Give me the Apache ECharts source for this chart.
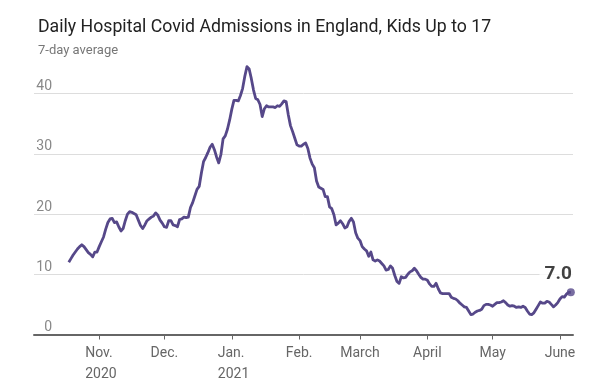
<!DOCTYPE html>
<html><head><meta charset="utf-8">
<script src="https://cdn.jsdelivr.net/npm/echarts@6/dist/echarts.min.js"></script>
<style>html,body{margin:0;padding:0;background:#fff}#c{width:608px;height:384px}</style>
</head><body><div id="c"></div>
<script>
const titleText = 'Daily Hospital Covid Admissions in England, Kids Up to 17';
const subtitleText = '7-day average';
const startDate = '2020-10-18';
const values = [
12.0, 12.6, 13.2, 13.7, 14.2, 14.6, 14.9, 14.6, 14.1, 13.6,
13.3, 12.9, 13.7, 13.7, 14.6, 15.4, 16.2, 17.5, 18.6, 19.2,
19.3, 18.6, 18.7, 17.9, 17.2, 17.6, 18.9, 20.0, 20.4, 20.3,
20.1, 19.9, 19.0, 18.1, 17.6, 18.2, 18.9, 19.2, 19.5, 19.7,
20.2, 19.8, 19.0, 18.5, 17.9, 17.8, 18.9, 18.9, 18.2, 18.1,
17.9, 19.1, 19.2, 19.5, 19.4, 19.5, 21.1, 21.9, 23.0, 24.1,
24.6, 26.8, 28.7, 29.4, 30.2, 31.1, 31.6, 30.7, 29.5, 28.5,
29.9, 32.5, 33.0, 34.1, 35.6, 37.4, 38.9, 38.9, 38.8, 39.7,
40.9, 42.9, 44.5, 44.1, 42.5, 40.6, 39.2, 39.0, 38.2, 36.2,
37.5, 38.0, 37.8, 37.8, 37.8, 37.7, 38.0, 37.9, 38.3, 38.8,
38.7, 36.5, 34.7, 33.7, 32.6, 31.5, 31.3, 31.3, 31.6, 31.8,
30.9, 29.3, 28.3, 27.7, 25.5, 24.5, 24.3, 24.1, 22.9, 22.9,
21.2, 20.9, 19.9, 18.2, 18.5, 18.9, 18.4, 17.7, 17.9, 18.8,
19.3, 18.7, 16.9, 16.0, 15.6, 14.6, 14.2, 13.9, 13.0, 13.7,
12.4, 12.2, 12.4, 12.2, 11.8, 11.4, 10.7, 10.8, 11.4, 11.0,
9.8, 8.8, 8.5, 9.6, 9.4, 9.5, 10.0, 10.4, 10.6, 11.0,
10.6, 10.0, 9.5, 9.2, 9.2, 9.0, 8.4, 8.0, 8.0, 8.5,
7.6, 6.9, 6.8, 6.8, 6.8, 6.8, 6.2, 6.0, 5.9, 5.6,
5.2, 4.9, 4.6, 4.5, 3.9, 3.3, 3.4, 3.7, 3.9, 4.0,
4.2, 4.8, 5.0, 5.0, 4.9, 4.7, 5.0, 5.3, 5.3, 5.4,
5.6, 5.3, 4.9, 4.7, 4.8, 4.7, 4.5, 4.6, 4.5, 4.7,
4.5, 3.9, 3.4, 3.3, 3.6, 4.2, 4.8, 5.4, 5.2, 5.2,
5.5, 5.4, 5.0, 4.6, 4.9, 5.3, 5.9, 6.3, 6.2, 6.7,
7.0, 7.0
];
const monthTicks = ['2020-11-01','2020-12-01','2021-01-01','2021-02-01','2021-03-01','2021-04-01','2021-05-01','2021-06-01'];
const monthLabels = ['Nov.','Dec.','Jan.','Feb.','March','April','May','June'];
const yearLabels = ['2020','','2021','','','','',''];
const axisStart = '2020-10-02';
const axisEnd = '2021-06-07';
const yMin = 0, yMax = 40, yStep = 10;

const FONT = 'Roboto, "Liberation Sans", sans-serif';
const DAY = 86400000;
function utc(s){ const p = s.split('-').map(Number); return Date.UTC(p[0], p[1]-1, p[2]); }
const t0 = utc(startDate);
const seriesData = values.map((v, i) => [t0 + i * DAY, v]);
const lastPoint = seriesData[seriesData.length - 1];
const tickTimes = monthTicks.map(utc);

const chart = echarts.init(document.getElementById('c'), null, {renderer: 'canvas'});
chart.setOption({
  animation: false,
  backgroundColor: '#fff',
  textStyle: {fontFamily: FONT},
  title: {
    text: titleText,
    subtext: subtitleText,
    left: 33, top: 14, itemGap: 7,
    textStyle: {fontFamily: FONT, fontSize: 17.7, fontWeight: 'normal', color: '#222'},
    subtextStyle: {fontFamily: FONT, fontSize: 13, color: '#777'}
  },
  grid: {left: 34, right: 35, top: 93.7, bottom: 49.5, containLabel: false, outerBoundsMode: 'none'},
  xAxis: {
    type: 'value',
    min: utc(axisStart), max: utc(axisEnd),
    splitLine: {show: false},
    axisLine: {lineStyle: {color: '#666', width: 2}},
    axisTick: {show: true, length: 5, customValues: tickTimes, lineStyle: {color: '#666', width: 1}},
    axisLabel: {
      customValues: tickTimes,
      margin: 8,
      color: '#666', fontSize: 14, lineHeight: 21, fontFamily: FONT,
      formatter: function (val) {
        let idx = tickTimes.indexOf(val);
        if (idx < 0) { idx = tickTimes.findIndex(t => Math.abs(t - val) < DAY); }
        if (idx < 0) return '';
        if (yearLabels[idx]) return '{m|' + monthLabels[idx] + '}\n{m|' + yearLabels[idx] + '}';
        return monthLabels[idx];
      },
      rich: {m: {width: 28, align: 'left', color: '#666', fontSize: 14, lineHeight: 21, fontFamily: FONT}}
    }
  },
  yAxis: {
    type: 'value', min: yMin, max: yMax, interval: yStep,
    axisLine: {show: false}, axisTick: {show: false},
    splitLine: {lineStyle: {color: '#ddd', width: 1}},
    axisLabel: {inside: true, align: 'right', verticalAlign: 'bottom', margin: 18, color: '#888', fontSize: 14, fontFamily: FONT}
  },
  series: [
    {
      type: 'line', data: seriesData, showSymbol: false, clip: false,
      lineStyle: {color: '#564889', width: 2.8, join: 'round'},
      itemStyle: {color: '#564889'}
    },
    {
      type: 'scatter', data: [lastPoint], symbol: 'circle', symbolSize: 8, clip: false,
      itemStyle: {color: '#564889'},
      label: {
        show: true, position: 'top', align: 'right', offset: [3, 0], distance: 5,
        formatter: p => p.value[1].toFixed(1),
        fontSize: 19, fontWeight: 'bold', color: '#111', fontFamily: FONT,
        backgroundColor: '#fff', padding: [0, 2, 0, 5]
      }
    }
  ]
});
</script></body></html>
